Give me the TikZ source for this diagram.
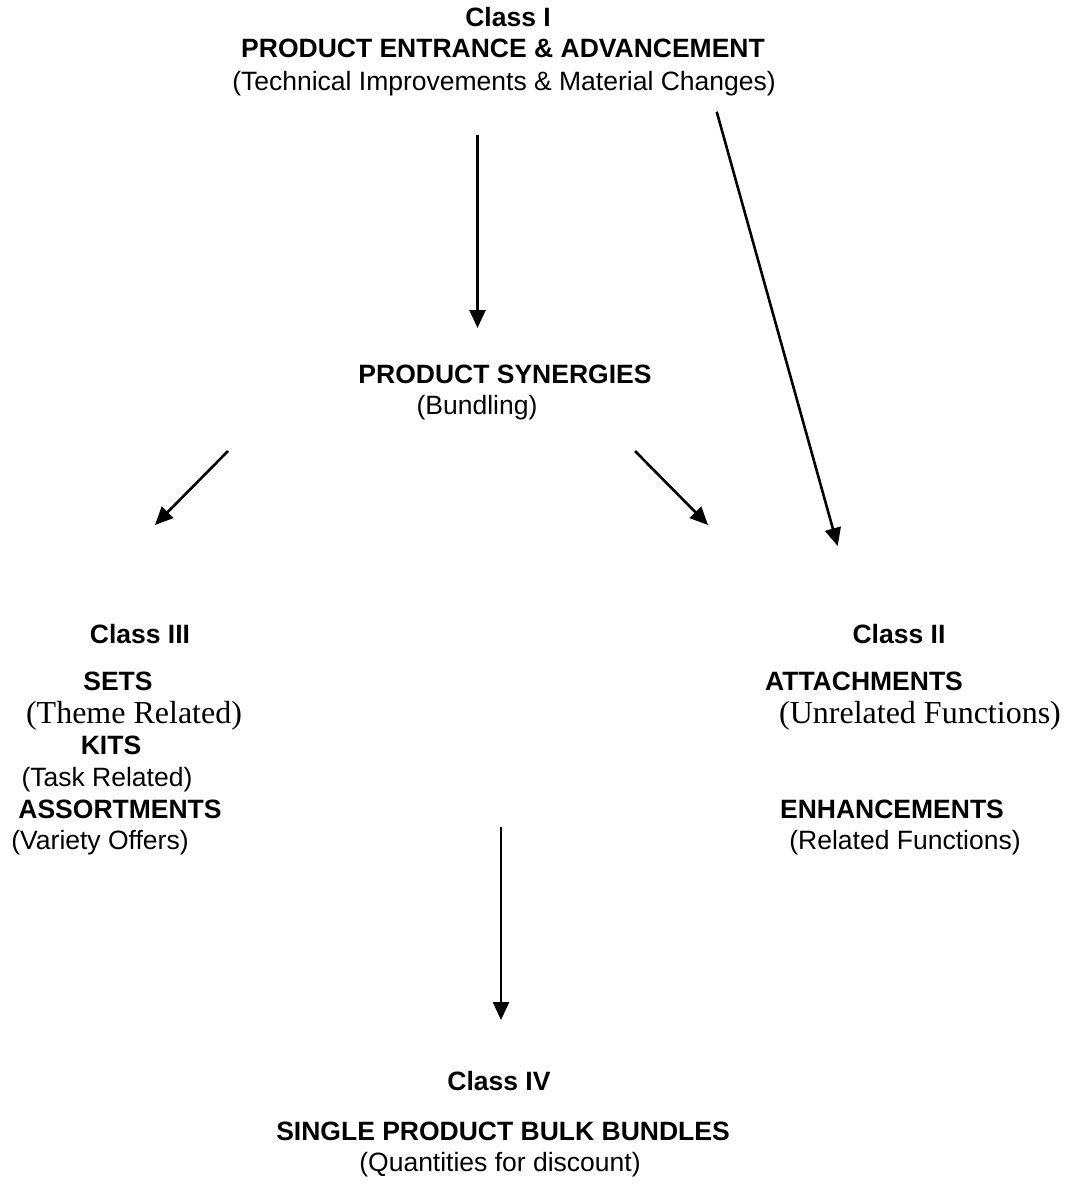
\documentclass[tikz,border=0pt]{standalone}
\usepackage{fontspec}
\setmainfont{Liberation Sans}
\newfontfamily\tnr{Liberation Serif}
\usetikzlibrary{arrows.meta}
\tikzset{
  lbl/.style={anchor=base, inner sep=0pt, font=\fontsize{26.5}{30}\selectfont},
  head/.style={lbl, font=\fontsize{26.5}{30}\selectfont\bfseries},
  serif/.style={anchor=base, inner sep=0pt, font=\fontsize{32}{36}\selectfont\tnr},
  arr/.style={line width=2.6pt, -{Triangle[length=18pt,width=16pt]}}
}
\begin{document}
\begin{tikzpicture}[x=1pt,y=-1pt]
\useasboundingbox (0,0) rectangle (1067,1185);
% Class I
\node[head] (c1) at (508,27) {Class I};
\node[head] (c1a) at (503,58) {PRODUCT ENTRANCE \& ADVANCEMENT};
\node[lbl] (c1b) at (504,91) {(Technical Improvements \& Material Changes)};
% synergies
\node[head] (syn) at (505,383) {PRODUCT SYNERGIES};
\node[lbl] (synb) at (477,414) {(Bundling)};
% Class III
\node[head] (c3) at (140,643) {Class III};
\node[head] (sets) at (118,690) {SETS};
\node[serif] (setsb) at (134,723) {(Theme Related)};
\node[head] (kits) at (111,754) {KITS};
\node[lbl] (kitsb) at (107,786.5) {(Task Related)};
\node[head] (ass) at (120,818) {ASSORTMENTS};
\node[lbl] (assb) at (100,849.5) {(Variety Offers)};
% Class II
\node[head] (c2) at (899,643) {Class II};
\node[head] (att) at (864,690) {ATTACHMENTS};
\node[serif] (attb) at (920,723) {(Unrelated Functions)};
\node[head] (enh) at (892,818) {ENHANCEMENTS};
\node[lbl] (enhb) at (905,849.5) {(Related Functions)};
% Class IV
\node[head] (c4) at (499,1090) {Class IV};
\node[head] (c4a) at (503,1140) {SINGLE PRODUCT BULK BUNDLES};
\node[lbl] (c4b) at (500,1171) {(Quantities for discount)};
% arrow end points
\coordinate (a1s) at (477.5,135);
\coordinate (a1e) at (477.5,328);
\coordinate (a2s) at (716.7,111.7);
\coordinate (a2e) at (837.7,546);
\coordinate (a3s) at (228,451);
\coordinate (a3e) at (155,525);
\coordinate (a4s) at (635,451);
\coordinate (a4e) at (708,525);
\coordinate (a5s) at (501,827);
\coordinate (a5e) at (501,1020);
\draw[arr] (a1s) -- (a1e);
\draw[arr] (a2s) -- (a2e);
\draw[arr] (a3s) -- (a3e);
\draw[arr] (a4s) -- (a4e);
\draw[arr] (a5s) -- (a5e);
\end{tikzpicture}
\end{document}
